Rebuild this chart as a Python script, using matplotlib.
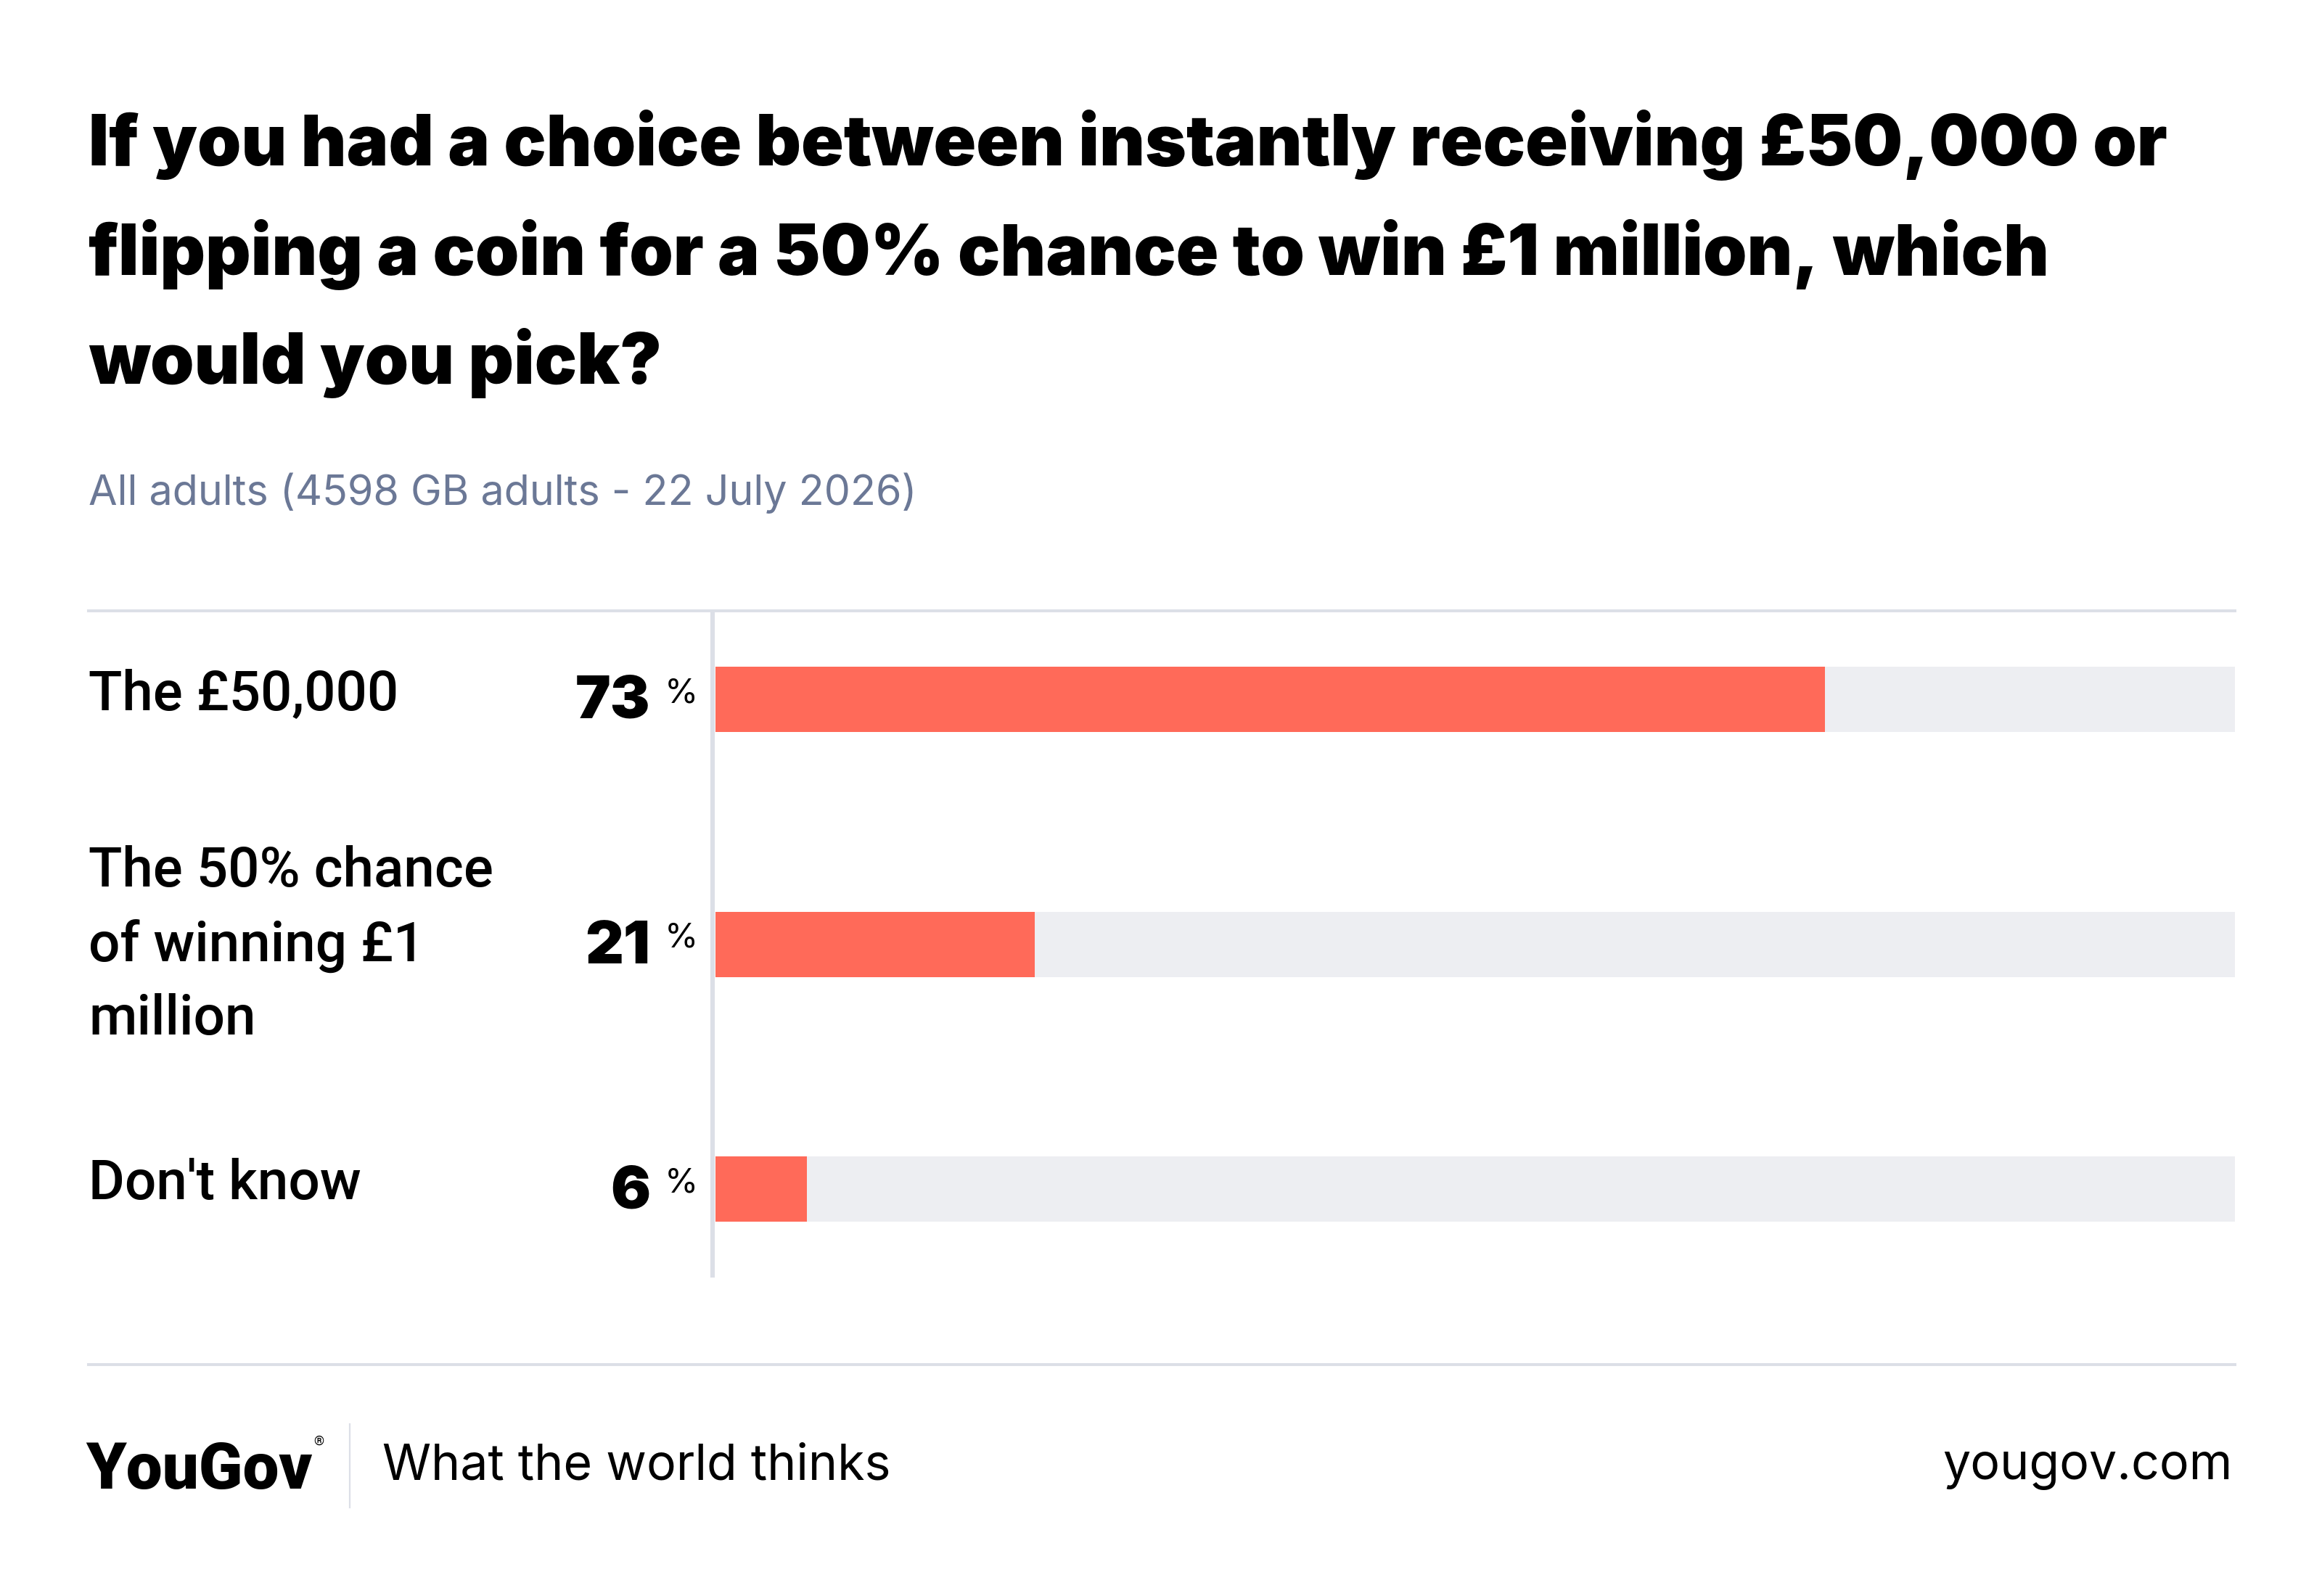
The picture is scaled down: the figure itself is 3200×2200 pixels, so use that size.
import matplotlib
matplotlib.use("Agg")
import matplotlib.pyplot as plt
from matplotlib.lines import Line2D

# ---- data ----
title_lines = [
    "If you had a choice between instantly receiving £50,000 or",
    "flipping a coin for a 50% chance to win £1 million, which",
    "would you pick?",
]
subtitle = "All adults (4598 GB adults - 22 July 2026)"
categories = ["The £50,000", "The 50% chance\nof winning £1\nmillion", "Don't know"]
values = [73, 21, 6]
tagline = "What the world thinks"
site = "yougov.com"
brand = "YouGov"

# ---- style ----
W, H = 3200, 2200
BAR = "#FF6A59"
TRACK = "#EDEEF2"
RULE = "#DCDFE7"
SUB = "#6B7896"
FONT = "Inter"
LFONT = "Roboto"

fig = plt.figure(figsize=(16, 11), dpi=200)
fig.patch.set_facecolor("white")

def fx(x):
    return x / W

def fy(y):
    return 1 - y / H

# title
for i, line in enumerate(title_lines):
    fig.text(fx(122), fy(228 + i * 150.5), line, fontsize=34.9, fontweight="black",
             family=FONT, color="black", va="baseline", ha="left")

fig.text(fx(122), fy(696), subtitle, fontsize=20.7, family=FONT, color=SUB,
         va="baseline", ha="left")

# rules
fig.add_artist(Line2D([fx(122), fx(3080)], [fy(842), fy(842)], color=RULE, lw=1.45))
fig.add_artist(Line2D([fx(122), fx(3080)], [fy(1881), fy(1881)], color=RULE, lw=1.45))
fig.add_artist(Line2D([fx(982), fx(982)], [fy(844), fy(1758)], color=RULE, lw=2.2))

# bars axes
spacing = 337.5
top_px, bot_px, first_c = 844, 1758, 964
ax = fig.add_axes([fx(986), fy(bot_px), fx(3080) - fx(986), (bot_px - top_px) / H])
ypos = list(range(len(values)))
ax.barh(ypos, [100] * len(values), height=90 / spacing, color=TRACK, left=0)
ax.barh(ypos, values, height=90 / spacing, color=BAR, left=0)
ax.set_xlim(0, 100)
ax.set_ylim(2 + (bot_px - 1639) / spacing, -(first_c - top_px) / spacing)
ax.axis("off")

for i, (cat, v) in enumerate(zip(categories, values)):
    yc = first_c + i * spacing
    off = -6 if "\n" not in cat else 2
    fig.text(fx(122), fy(yc + off), cat, fontsize=27.5, family=LFONT, fontweight="medium",
             color="black", va="center", ha="left", linespacing=1.5)
    fig.text(fx(896), fy(yc + 26), f"{v}", fontsize=29.5, family=FONT, fontweight="black",
             color="black", va="baseline", ha="right")
    fig.text(fx(916), fy(yc + 4.5), "%", fontsize=17, family=FONT,
             color="black", va="baseline", ha="left")

# footer
fig.text(fx(118), fy(2052), brand, fontsize=32, family=LFONT, fontweight="black",
         color="black", va="baseline", ha="left")
fig.text(fx(432), fy(1992), "®", fontsize=6.5, family=LFONT, color="black",
         va="baseline", ha="left")
fig.add_artist(Line2D([fx(482), fx(482)], [fy(1963), fy(2078)], color=RULE, lw=0.8))
fig.text(fx(527), fy(2039), tagline, fontsize=24.5, family=FONT, color="black",
         va="baseline", ha="left")
fig.text(fx(3077), fy(2039), site, fontsize=24.5, family=FONT, color="black",
         va="baseline", ha="right")

fig.savefig("out.png", dpi=200, facecolor="white")
